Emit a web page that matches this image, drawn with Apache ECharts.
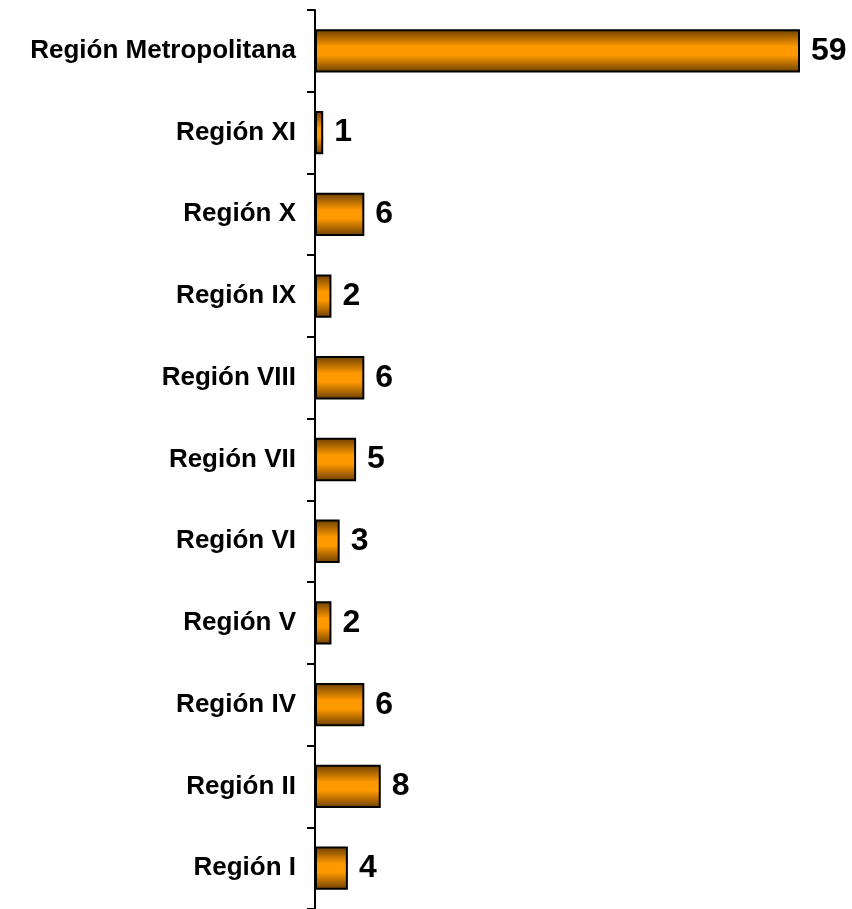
<!DOCTYPE html>
<html>
<head>
<meta charset="utf-8" />
<title>Regiones</title>
<script type="text/javascript" src="https://cdn.jsdelivr.net/npm/echarts@6/dist/echarts.min.js"></script>
<style>
  html, body { margin: 0; padding: 0; background: #fff; }
  #chart { width: 852px; height: 909px; }
</style>
</head>
<body>
<div id="chart"></div>
<script type="text/javascript">
    var regiones = ['Región I', 'Región II', 'Región IV', 'Región V', 'Región VI', 'Región VII',
                    'Región VIII', 'Región IX', 'Región X', 'Región XI', 'Región Metropolitana'];
    var valores = [4, 8, 6, 2, 3, 5, 6, 2, 6, 1, 59];

    var myChart = echarts.init(document.getElementById('chart'));

    myChart.setOption({
        animation: false,
        grid: {
            left: 315,
            right: 52,
            top: 10,
            bottom: 0
        },
        xAxis: {
            type: 'value',
            min: 0,
            max: 59,
            show: false
        },
        yAxis: {
            type: 'category',
            data: regiones,
            axisLine: { show: true, lineStyle: { color: '#000', width: 2 } },
            axisTick: { show: true, inside: false, alignWithLabel: false, length: 8, lineStyle: { color: '#000', width: 2 } },
            axisLabel: {
                margin: 19,
                color: '#000',
                fontFamily: 'Liberation Sans',
                fontWeight: 'bold',
                fontSize: 26
            }
        },
        series: [
            {
                type: 'bar',
                data: valores,
                barWidth: '53%',
                itemStyle: {
                    borderColor: '#000',
                    borderWidth: 2,
                    color: new echarts.graphic.LinearGradient(0, 0, 0, 1, [
                        { offset: 0, color: '#6a3e00' },
                        { offset: 0.4, color: '#ff9900' },
                        { offset: 0.6, color: '#ff9900' },
                        { offset: 1, color: '#6a3e00' }
                    ])
                },
                label: {
                    show: true,
                    position: 'right',
                    distance: 11,
                    color: '#000',
                    fontFamily: 'Liberation Sans',
                    fontWeight: 'bold',
                    fontSize: 32
                }
            }
        ]
    });
</script>
</body>
</html>
